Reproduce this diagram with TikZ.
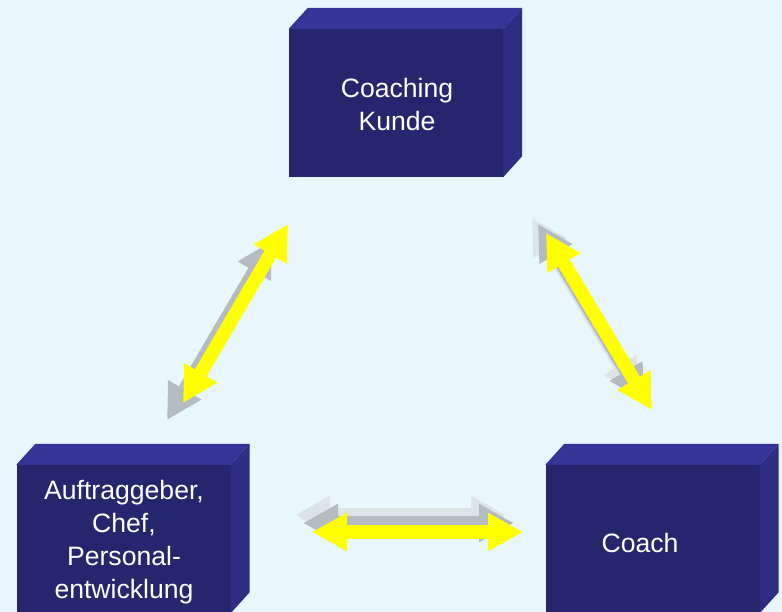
\documentclass[tikz,border=0pt]{standalone}
\usepackage{fontspec}
\setmainfont{Liberation Sans}
\usetikzlibrary{arrows.meta}
\definecolor{bg}{RGB}{232,246,254}
\definecolor{frontc}{RGB}{38,38,110}
\definecolor{topc}{RGB}{53,53,152}
\definecolor{sidec}{RGB}{45,45,132}
\definecolor{shdark}{RGB}{181,188,193}
\definecolor{shlight}{RGB}{220,228,232}
\definecolor{arryel}{RGB}{255,255,0}
\tikzset{
  frontbox/.style={rectangle, inner sep=0pt, minimum width=214pt, minimum height=148pt, fill=frontc},
  boxtext/.style={text=white, align=center, font=\fontsize{26.6}{33}\selectfont},
  dblarr/.style={line width=13.5pt, {Triangle[length=35pt,width=36pt]}-{Triangle[length=35pt,width=36pt]}},
  yelarr/.style={dblarr, draw=arryel},
  darkarr/.style={dblarr, draw=shdark},
  lightarr/.style={dblarr, draw=shlight},
}
\newcommand\boxfaces[1]{%
  \fill[topc] (#1.north west) -- ++(19,-21) -- ([shift={(19,-21)}]#1.north east) -- (#1.north east) -- cycle;
  \fill[sidec] (#1.north east) -- ++(19,-21) -- ([shift={(19,-21)}]#1.south east) -- (#1.south east) -- cycle;
}
\begin{document}
\begin{tikzpicture}[x=1pt,y=-1pt]
\useasboundingbox (0,0) rectangle (782,612);
\clip (0,0) rectangle (782,612);
\fill[bg] (0,0) rectangle (782,612);

% boxes
\node[frontbox] (kundebox) at (396,103) {};
\boxfaces{kundebox}
\node[frontbox] (auftragbox) at (123.5,539) {};
\boxfaces{auftragbox}
\node[frontbox] (coachbox) at (652.5,539) {};
\boxfaces{coachbox}

\node[boxtext] (kunde) at (397,104) {Coaching\\Kunde};
\node[boxtext] (auftrag) at (124,542) {Auftraggeber,\\Chef,\\Personal-\\entwicklung};
\node[boxtext] (coach) at (640,543) {Coach};

% arrow end points
\coordinate (a1s) at (183,403);
\coordinate (a1e) at (288,224);
\coordinate (a2s) at (546,233);
\coordinate (a2e) at (652,410);
\coordinate (a3s) at (312,532);
\coordinate (a3e) at (523,532);

% left arrow
\draw[darkarr] ([shift={(-16,17)}]a1s) -- ([shift={(-16,17)}]a1e);
\draw[yelarr] (a1s) -- (a1e);

% right arrow
\draw[lightarr] ([shift={(-14,-15)}]a2s) -- ([shift={(-14,-15)}]a2e);
\draw[darkarr] ([shift={(-8,-9)}]a2s) -- ([shift={(-8,-9)}]a2e);
\draw[yelarr] (a2s) -- (a2e);

% bottom arrow
\draw[lightarr] ([shift={(-17,-17)}]a3s) -- ([shift={(-17,-17)}]a3e);
\draw[darkarr] ([shift={(-9,-9)}]a3s) -- ([shift={(-9,-9)}]a3e);
\draw[yelarr] (a3s) -- (a3e);
\end{tikzpicture}
\end{document}
